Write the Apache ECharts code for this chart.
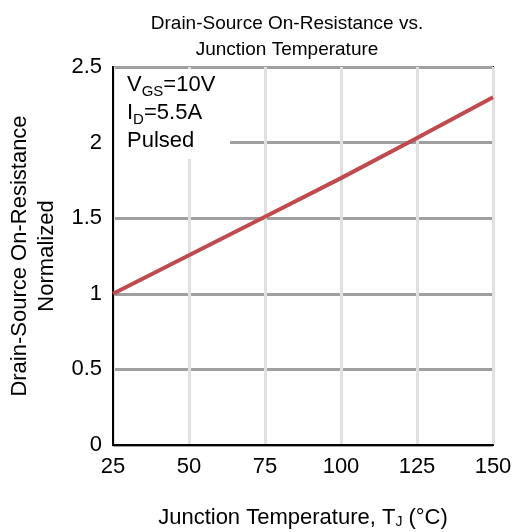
<!DOCTYPE html>
<html><head><meta charset="utf-8">
<script src="https://cdn.jsdelivr.net/npm/echarts@6/dist/echarts.min.js"></script>
<style>html,body{margin:0;padding:0;background:#fff}#c{width:514px;height:532px}</style>
</head><body><div id="c"></div>
<script>
var temps = [25, 50, 75, 100, 125, 150];
var rdsNorm = [1.0, 1.255, 1.51, 1.765, 2.03, 2.30];
var xTicks = [25, 50, 75, 100, 125, 150];
var yTicks = [0, 0.5, 1, 1.5, 2, 2.5];

var F = '"Liberation Sans", Arial, sans-serif';
var chart = echarts.init(document.getElementById('c'));
chart.setOption({
  animation: false,
  title: {
    text: 'Drain-Source On-Resistance vs.\nJunction Temperature',
    left: 282, top: 6, textAlign: 'center',
    textStyle: {fontFamily: F, fontSize: 19, fontWeight: 'normal', color: '#000', lineHeight: 26}
  },
  grid: {left: 113, right: 21, top: 67, bottom: 87, outerBoundsMode: 'none', containLabel: false,
    show: true, borderColor: '#000', borderWidth: 2, backgroundColor: 'transparent'},
  xAxis: {
    type: 'value', min: 25, max: 150, interval: 25,
    name: 'Junction Temperature, T{s|J} (°C)',
    nameLocation: 'middle', nameGap: 62,
    nameTextStyle: {fontFamily: F, fontSize: 22, color: '#000',
      rich: {s: {fontFamily: F, fontSize: 14, color: '#000', verticalAlign: 'bottom', padding: [8,0,0,0]}}},
    axisLine: {show: true, lineStyle: {color: '#000', width: 2}},
    axisTick: {show: false},
    axisLabel: {fontFamily: F, fontSize: 22, color: '#000', margin: 11},
    splitLine: {show: true, lineStyle: {color: '#e0e0e0', width: 3}}
  },
  yAxis: {
    type: 'value', min: 0, max: 2.5, interval: 0.5,
    name: 'Drain-Source On-Resistance\nNormalized',
    nameLocation: 'middle', nameGap: 51,
    nameTextStyle: {fontFamily: F, fontSize: 22, color: '#000', lineHeight: 27},
    axisLine: {show: true, lineStyle: {color: '#000', width: 2}},
    axisTick: {show: false},
    axisLabel: {fontFamily: F, fontSize: 22, color: '#000', margin: 11,
      formatter: function(v){ return String(v); }},
    splitLine: {show: true, lineStyle: {color: '#a0a0a0', width: 3}}
  },
  series: [{
    type: 'line', data: temps.map(function(t,i){return [t, rdsNorm[i]];}),
    showSymbol: false, smooth: false,
    lineStyle: {color: '#bf4a50', width: 4}, z: 3
  }],
  graphic: [
    {type: 'rect', left: 115, top: 69, z: 10, shape: {width: 115, height: 90}, style: {fill: '#fff'}},
    {type: 'text', left: 127, top: 71, z: 11,
      style: {
        text: 'V{s|GS}=10V\nI{s|D}=5.5A\nPulsed',
        font: '22px ' + F, fill: '#000', lineHeight: 28,
        rich: {s: {fontFamily: F, fontSize: 15, fill: '#000', verticalAlign: 'bottom', padding: [8,0,0,0]}}
      }}
  ]
});
</script></body></html>
